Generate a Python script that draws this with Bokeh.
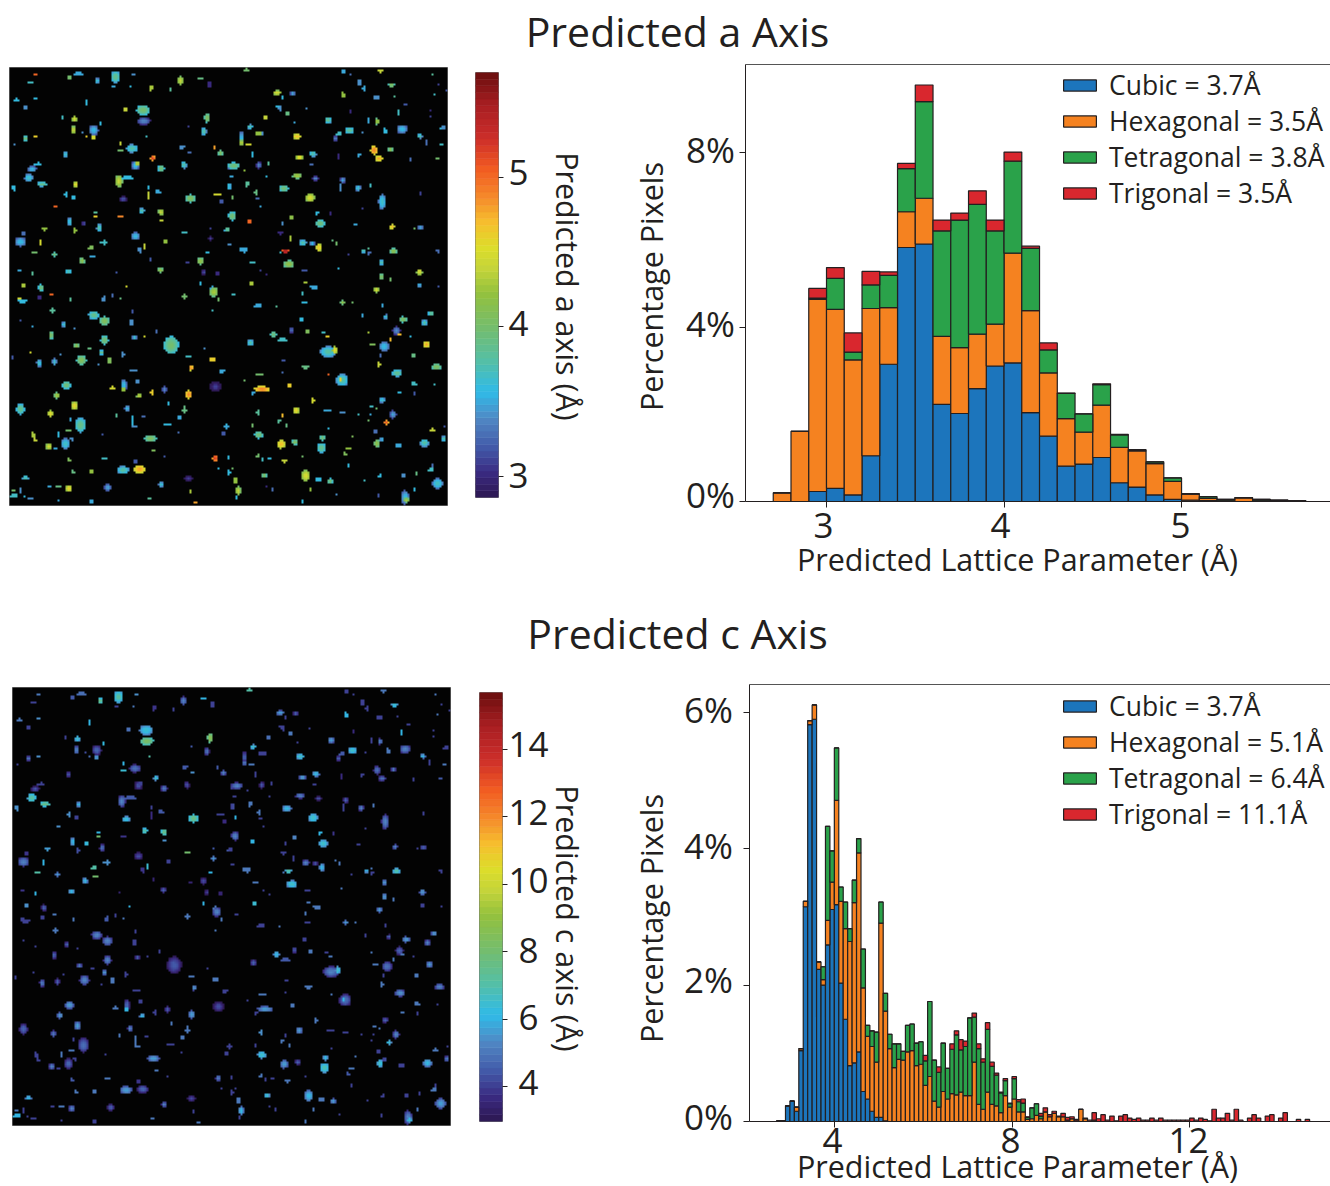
import numpy as np
from bokeh.plotting import figure
from bokeh.layouts import column, row
from bokeh.models import (ColumnDataSource, FixedTicker, Label, Legend, LinearAxis,
                          Range1d, LinearColorMapper, Spacer)
from bokeh.embed import file_html
from bokeh.resources import INLINE

INK = "#231F20"
FONT = "Open Sans"
SERIES_COLORS = ["#1C75BC", "#F58220", "#2AA24A", "#D9272E"]

# ---------- histogram, a axis (percent per 0.1 A bin, left bin edges) ----------
a_bins = [round(2.7 + 0.1 * i, 1) for i in range(30)]
a_cubic = [0, 0, .23, .30, .15, 1.05, 3.15, 5.83, 5.91, 2.23, 2.02, 2.59, 3.11, 3.18, 2.04, 1.50, .81, .86, 1.01, .43, .33, .15, .05, .03, .02, .01, 0, .01, .01, 0]
a_hex = [.20, 1.61, 4.41, 4.11, 3.10, 3.38, 1.30, .82, 1.05, 1.56, 1.51, 1.25, .96, 2.52, 2.34, 1.45, 1.09, .73, 1.20, .81, .83, .72, .41, .14, .05, .02, .08, .02, .01, .01]
a_tet = [0, 0, .03, .71, .18, .54, .74, .99, 2.22, 2.42, 2.93, 2.98, 2.14, 2.11, 1.43, .53, .58, .42, .47, .29, .03, .04, .08, .01, .04, .02, .01, .02, .01, .01]
a_tri = [0, 0, .22, .25, .44, .31, .08, .12, .38, .25, .16, .31, .25, .21, .05, .16, .01, 0, .02, .01, 0, 0, 0, 0, 0, 0, 0, 0, 0, 0]

# ---------- histogram, c axis ----------
c_bins = [round(2.7 + 0.1 * i, 1) for i in range(120)]
c_cubic = [.01, .01, .23, .30, .15, 1.04, 3.15, 5.82, 5.90, 2.23, 2.00, 2.59, 3.11, 3.18, 2.03, 1.50, .82, .86, 1.02, .44, .33, .15, .06, .06, .01] + [0] * 95
c_hex = [0, 0, 0, 0, .06, .03, .08, .06, .21, .11, .08, .36, .40, 1.53, 1.20, 1.33, 1.82, 2.35, 2.92, 1.52, .92, .95, .81, 2.85, 1.61,
         1.07, .79, .91, .90, 1.02, 1.04, .82, .84, .53, .66, .30, .21, .44, .33, .41, .39, .43, .38, .38, .87, .25, .18, .43, .25, .23, .13, .38, .21, .33,
         .14, .14, .03, .04, .09, .04, .14, .07, .12, .07, .07, .02, .04, .01, .18, .04, 0, .02] + [0] * 48
c_tet = [0, 0, 0, 0, 0, 0, 0, 0, 0, 0, .19, 1.38, .46, .77, .21, .39, .19, .33, .21, .57, .16, .23, .44, .31, .26,
         .21, .35, .23, .13, .39, .39, .33, .33, .36, 1.10, .60, .51, .71, .45, .65, .88, .62, .72, 1.14, .66, .82, .69, .92, .56, .45, .29, .22, .05, .30,
         .15, .13, .03, .16, .17, .04] + [0] * 60
c_tri = [0] * 33 + [.08, 0, 0, .08, 0, 0, .08, .06, .15, .08, 0, .06, .07, .05, .10, .06, .03, .01, .03, .01, .03,
         .03, .06, .01, 0, 0, .04, .06, .03, .03, .01, .05, .04, .03, .02, 0, .01, .02, .11, .04, .10, .02, .08, .01, .08, .10, .05, .03, .05, .02, .02, .05, .02, .05,
         .02, .02, .02, .02, .02, .02, .05, .02, .05, .03, .01, .18, .05, .05, .12, .02, .18, .02, 0, .05, .10, .05, 0, .08, .10, 0, .05, .13, 0, 0, .03, 0, .03]
c_tri = (c_tri + [0] * 120)[:120]

SERIES = ["Cubic", "Hexagonal", "Tetragonal", "Trigonal"]
a_legend = ["Cubic = 3.7Å", "Hexagonal = 3.5Å", "Tetragonal = 3.8Å", "Trigonal = 3.5Å"]
c_legend = ["Cubic = 3.7Å", "Hexagonal = 5.1Å", "Tetragonal = 6.4Å", "Trigonal = 11.1Å"]

# ---------- colour scale ----------
cmap_stops = [0, .05, .11, .18, .245, .32, .40, .48, .54, .59, .65, .71, .78, .85, .93, 1]
cmap_hex = ["#2E1A57", "#3A2A80", "#4258A8", "#5088C4", "#2FBBE8", "#55BFA5", "#75BD6C", "#93C13E",
            "#C5D43A", "#DDDD2A", "#F6BE2E", "#F58A2B", "#F15A22", "#CC2E2A", "#A81E22", "#701010"]

def make_palette(n=64):
    rgb = np.array([[int(h[i:i + 2], 16) for i in (1, 3, 5)] for h in cmap_hex], float)
    t = np.linspace(0, 1, n)
    return ["#%02x%02x%02x" % tuple(int(round(np.interp(v, cmap_stops, rgb[:, k]))) for k in range(3)) for v in t]

PALETTE = make_palette()
A_LOW, A_HIGH = 2.86, 5.70
C_LOW, C_HIGH = 2.97, 15.68

# ---------- detected grains: x, y, w, h, a value, c value (thirds of a picture pixel) ----------
spots_q1 = [
 (345,50,24,32,3.7,6.5),(232,42,26,10,3.5,4.8),(205,52,16,6,4.0,4.5),(290,62,12,14,3.5,7),(105,45,6,8,5.0,5),(90,65,14,4,3.7,4),
 (398,43,6,6,3.4,5.5),(540,62,16,24,4.2,4.5),(600,56,18,6,3.9,6),(627,75,10,18,3.0,4),(452,84,10,14,4.3,3.8),(510,90,8,8,3.8,4),
 (338,80,8,8,3.5,4),(388,80,4,4,3.6,5),(50,120,14,8,3.6,5),(104,114,6,5,3.6,5.5),(258,126,8,12,3.6,6),(75,143,6,18,3.4,4),
 (376,147,14,10,4.4,4.8),(428,150,38,28,3.8,5.8),(430,183,38,20,3.2,7.5),(187,173,6,6,3.7,4),(222,176,14,16,4.3,6),(620,173,16,26,3.9,8),
 (565,200,6,6,3.1,4.4),(219,210,14,24,4.2,4.5),(280,210,26,28,3.4,4),(300,190,8,6,3.6,6.2),(75,235,12,14,3.8,4.3),(104,228,10,8,4.6,5.5),
 (260,230,4,8,4.6,4.8),(280,232,10,8,4.5,5.5),(245,218,6,6,3.4,4.2),(438,228,6,4,3.7,7),(610,214,14,22,3.6,4.2),(40,254,6,4,3.4,4),
 (360,250,14,4,4.4,6),(360,272,12,6,4.0,6.5),(395,265,34,22,3.6,4.2),(195,283,14,16,3.5,3.7),(457,294,12,12,5.0,6),(545,260,14,10,3.4,4.5),
 (566,277,8,6,3.3,5.5),(640,262,4,18,4.8,4.5),(660,278,14,16,3.9,4.5),(95,327,24,16,3.4,3.7),(112,312,20,8,3.6,4),(405,316,20,26,3.4,3.6),
 (410,310,16,6,4.3,4),(482,325,18,18,3.8,4.3),(550,314,16,20,3.6,3.6),(85,353,24,22,3.5,6.5),(125,372,30,12,3.7,7),(355,363,20,34,4.2,4.5),
 (380,354,30,10,3.6,4.5),(226,373,12,14,4.4,5.5),(40,384,8,14,3.6,5.5),(197,404,8,14,3.6,5.5),(220,412,14,8,3.6,4),(443,405,6,20,4.4,3.7),
 (445,382,3,8,3.6,4),(472,396,16,10,3.5,4.5),(368,417,22,16,3.0,5.8),(570,415,26,22,3.9,7),(652,403,20,6,4.5,4),(663,425,10,10,3.2,3.7),
 (165,438,6,4,5.0,5.5),(424,452,16,14,3.6,6.5),(482,456,16,18,4.2,7),(283,458,8,6,3.8,6),(285,470,10,5,4.6,8),(360,470,20,5,4.9,3.8),
 (483,482,10,4,4.4,5.5),(208,485,12,24,3.5,5.5),(250,490,12,14,3.0,6),(296,503,14,20,3.6,4.2),(132,506,12,10,4.2,5.6),(224,510,6,16,4.2,4.2),
 (70,520,8,16,3.3,3.8),(552,517,10,4,3.7,8),(630,505,6,4,3.1,4.5),(630,535,14,14,2.9,5),(680,510,16,8,3.5,4.5),(60,545,32,26,3.4,4.5),
 (120,548,8,14,4.5,6),(405,528,26,22,3.4,3.5),(432,558,8,14,4.4,6.5),(495,543,14,10,4.2,4),(310,547,18,10,3.7,5.5),(272,564,14,10,4.1,7),
 (102,577,14,4,4.0,7),(275,587,18,4,3.5,8),(162,583,14,12,3.8,5),(245,602,14,18,4.0,5.5),(418,570,8,18,3.4,3.8),(600,603,20,20,4.0,3.6),
 (622,577,10,4,3.6,6),(450,598,10,6,3.2,3.5),(560,607,8,8,3.1,3.5),(204,634,20,12,3.6,5.5),(480,630,16,14,4.0,4),(610,636,12,14,3.0,3.4),
 (652,640,8,8,3.0,3.4),(95,640,8,14,3.8,6),(58,630,8,4,3.5,3.8),(350,635,4,4,3.2,3.4),(67,675,12,10,4.3,5.5),(122,682,16,14,3.8,4),
 (375,680,4,4,4.5,6),(600,670,10,4,3.6,6),(638,685,20,10,3.5,5),(685,320,10,10,3.3,4),(688,378,6,14,3.5,4.2),(688,468,8,16,3.8,5),
]
spots_q2 = [
 (64,30,16,8,4.0,7),(155,98,24,12,4.3,5),(172,110,4,12,3.6,4),(202,100,14,14,3.3,4),(158,138,18,6,3.6,4),(163,145,6,14,3.4,4),
 (185,160,8,14,3.9,5),(120,172,16,14,4.3,4.5),(240,142,4,6,3.4,4),(207,187,4,6,3.5,4),(308,180,18,16,3.7,5),(375,155,10,8,3.0,3.6),
 (353,105,10,16,4.2,6),(355,33,14,10,3.5,4),(377,40,6,4,3.3,4),(465,33,12,6,4.4,5),(402,67,8,14,3.4,4),(415,87,6,18,3.5,4),
 (498,75,18,12,3.9,6),(452,113,18,10,3.4,4),(506,110,4,4,3.8,4),(540,132,8,4,3.2,4),(519,157,8,12,3.7,6),(612,152,4,4,3.0,4),
 (612,168,4,4,3.1,4),(620,42,6,6,3.8,5),(625,100,8,4,3.7,5),(660,92,4,4,3.2,4),(640,72,4,4,3.1,4),(74,200,16,12,3.6,6),
 (48,235,14,44,3.4,4),(48,248,12,14,4.2,4.5),(70,252,12,6,4.5,5),(97,220,18,8,4.2,4),(110,221,4,10,3.4,4),(215,229,24,14,4.5,6),
 (222,292,18,14,4.4,5),(262,281,20,16,3.6,5.5),(258,312,14,6,3.3,4),(340,222,18,10,3.7,4.5),(330,235,12,14,3.2,4),(372,211,24,16,3.7,6),
 (412,218,4,4,3.4,4),(430,180,6,14,3.5,4),(455,184,14,16,4.1,4.5),(478,212,10,16,3.6,5),(530,207,30,24,3.4,4.5),(583,228,14,12,3.6,5.5),
 (602,245,6,16,3.3,4),(655,202,8,14,3.4,4),(645,204,6,4,3.6,4),(648,254,8,4,3.7,5),(446,270,20,24,4.7,4.2),(461,295,22,14,4.6,4.2),
 (495,268,12,14,4.0,4.5),(400,285,10,6,3.5,4),(339,291,8,16,3.0,3.6),(557,297,4,8,3.3,4),(636,295,6,8,4.0,4.5),(80,282,6,16,3.6,4),
 (25,317,34,18,3.8,4.5),(100,315,14,18,3.2,3.8),(128,310,6,6,3.8,4),(18,350,4,10,3.5,4),(54,332,4,4,4.2,4),(65,372,10,14,3.8,5),
 (8,378,6,14,3.6,4),(92,397,8,16,3.9,5),(95,413,14,4,3.3,4),(125,347,6,4,3.6,4),(104,438,4,4,3.5,4),(20,411,8,8,4.0,6),
 (215,347,26,14,4.1,4.5),(270,355,16,12,3.2,3.6),(175,385,26,18,3.8,5.5),(352,360,14,16,3.3,4),(346,382,4,24,3.4,4),(398,384,14,16,3.5,4.5),
 (435,378,4,10,3.7,5),(254,413,26,24,4.3,6),(470,425,20,42,3.5,4.5),(585,400,4,4,3.1,4),(410,442,4,4,3.1,4),(20,468,22,24,3.8,4.5),
 (72,484,10,8,5.0,6),(198,472,12,14,4.1,5),(172,490,4,14,3.4,4),(274,458,8,8,3.6,6),(316,461,8,10,3.0,3.8),(284,490,26,20,3.8,6),
 (390,494,4,8,3.5,4),(500,500,14,14,4.5,4.5),(564,506,4,4,4.0,4),(585,502,18,14,3.3,4),(6,510,8,10,3.8,4),(166,519,16,6,3.0,4),
 (195,535,6,16,4.3,4),(232,548,20,16,3.6,4.5),(260,550,14,14,3.4,3.8),(280,562,14,22,4.5,5.5),(180,573,16,14,5.3,6.5),(162,574,4,4,3.7,5),
 (320,542,4,4,3.9,5),(335,550,4,6,4.0,5),(12,552,12,6,3.4,4),(55,568,20,10,3.5,5),(55,578,4,10,3.5,5),(414,572,12,12,3.6,5.5),
 (430,578,8,10,3.3,4),(426,562,6,4,3.8,5),(504,573,18,14,4.0,6.5),(370,585,6,4,3.1,4),(637,572,8,12,3.3,4),(468,607,12,14,3.6,5),
 (80,607,14,6,3.7,5),(190,612,30,20,4.0,6),(236,631,18,8,3.2,4),(340,623,10,4,3.6,5),(105,631,4,4,3.1,4),(582,635,16,18,4.3,5),
 (468,650,14,18,3.9,5),(495,657,6,10,4.0,5),(78,670,6,16,4.3,6.5),(240,667,4,4,4.3,5),(265,680,24,6,3.5,5),(453,686,16,10,4.0,5.5),
 (582,675,6,16,3.5,4),(640,680,6,6,3.2,4),(122,645,4,4,3.0,4),
]
spots_q3 = [
 (122,8,14,18,3.8,4),(65,47,24,10,3.6,4),(57,40,4,4,4.5,4),(115,37,14,6,3.0,4),(155,27,10,4,5.0,5),(310,42,10,16,3.4,4.4),
 (335,30,8,6,3.3,4),(360,38,6,4,3.9,5),(209,45,4,10,3.8,5),(552,32,10,14,4.0,5),(640,20,24,26,4.1,4.5),(652,42,4,8,4.0,5),
 (156,78,10,14,3.8,5),(637,73,4,4,3.7,5),(395,80,4,10,3.2,4),(280,90,30,22,3.7,4.5),(312,108,28,26,3.9,4.5),(393,113,10,14,3.4,4),
 (190,118,12,14,3.5,4),(222,130,6,4,3.4,4),(93,123,4,4,3.5,4),(60,105,4,4,3.2,4),(152,150,12,22,3.9,4),(312,165,22,26,3.8,4.5),
 (402,157,12,12,3.5,4),(432,152,6,4,4.5,4),(468,137,8,10,3.3,4),(512,180,42,50,3.8,3.8),(228,182,14,12,4.0,4.5),(268,190,6,8,3.9,4),
 (612,190,8,8,3.4,4),(303,202,14,12,3.7,5),(367,207,8,14,3.4,4),(38,217,4,14,3.2,4),(90,200,12,4,4.5,4),(116,234,14,20,3.5,4.4),
 (162,230,12,18,3.5,4),(243,225,28,28,3.9,4.5),(328,225,10,18,4.1,5),(178,210,4,4,3.4,4),(564,213,10,6,3.7,5),(634,223,16,10,4.6,5),
 (572,248,12,14,4.7,5),(665,258,14,10,3.5,4),(296,236,4,4,3.4,4),(397,256,20,6,3.4,4),(370,300,16,34,3.4,4),(370,312,10,10,4.2,6),
 (412,290,8,14,3.4,4),(198,300,24,20,3.8,5),(336,309,10,10,4.5,5),(170,331,16,16,4.1,5),(416,332,16,12,4.2,5.5),(455,322,10,14,4.6,4),
 (492,313,14,20,3.2,3.8),(565,328,18,22,4.7,5),(645,305,30,28,2.9,3.6),(502,356,4,14,3.6,5),(222,362,16,24,4.4,5),(380,370,14,18,3.4,4.5),
 (60,372,24,30,3.7,4),(150,386,14,18,4.4,4.4),(552,375,10,20,3.9,5),(348,390,4,10,3.8,5),(395,408,6,36,3.6,5),(400,425,14,6,3.4,5),
 (430,395,6,6,3.3,4),(538,397,16,6,3.5,5),(240,420,30,40,3.7,4.2),(210,403,4,14,3.5,4),(205,436,12,8,4.0,5),(500,420,24,4,3.6,4),
 (680,424,12,10,3.6,4),(668,444,12,10,3.2,4),(98,450,8,16,4.3,4),(103,464,12,6,4.4,4),(174,449,4,14,3.6,5),(533,443,4,4,3.3,4),
 (305,446,4,6,3.2,4),(450,460,34,18,3.9,5),(195,476,24,30,3.5,4),(145,484,16,16,4.3,4.5),(215,462,10,10,3.4,4),(167,490,8,8,3.5,4),
 (458,497,10,8,4.1,5),(490,511,6,4,3.2,4),(206,525,10,10,4.1,4.5),(310,521,16,4,3.7,5),(644,519,14,16,5.0,4.5),(684,517,4,14,3.5,4),
 (405,527,14,10,3.2,3.8),(418,552,32,22,4.6,4),(368,555,34,22,3.6,5),(652,551,4,4,3.6,4),(685,560,8,16,3.5,4),(218,560,14,6,3.9,5),
 (272,559,14,6,4.2,5),(564,580,24,16,2.9,3.5),(75,578,18,12,3.6,5.5),(482,598,14,14,3.5,4.5),(205,610,16,18,4.4,4.5),(175,604,12,6,3.9,5),
 (147,604,10,4,3.5,4),(322,607,20,20,3.3,3.8),(40,632,22,10,3.7,6),(90,640,12,4,3.4,4),(60,615,4,12,3.4,4),(38,616,6,8,4.0,5),
 (72,635,4,4,3.6,4),(570,620,6,12,4.3,4),(448,641,10,8,3.8,5),(274,649,10,8,3.5,4),(585,652,4,8,4.8,5),(173,643,4,4,3.5,4),
]
spots_q4 = [
 (265,6,24,8,3.5,5),(453,14,14,14,4.3,5),(582,5,8,8,3.4,4),(26,27,8,6,3.7,4),(230,26,8,6,3.7,5),(97,62,22,8,3.5,4),
 (150,62,4,4,3.8,5),(237,52,10,6,3.6,4),(352,52,14,12,4.0,5),(378,50,4,6,4.0,5),(472,62,6,10,3.5,4),(411,90,8,6,3.5,4),
 (481,95,12,12,3.5,4),(533,103,22,16,3.9,5),(617,85,16,14,3.7,5),(597,113,14,18,3.6,4.5),(228,103,10,12,3.6,4),(144,148,18,18,3.8,5.5),
 (198,135,12,20,3.1,3.8),(246,138,10,10,4.1,5),(172,165,24,10,3.7,4.5),(75,173,16,18,3.6,4),(294,140,8,4,3.7,4),(307,153,10,6,4.6,5),
 (513,137,22,24,3.2,4),(522,147,8,8,4.7,5),(428,143,4,4,4.3,5),(555,152,4,4,3.6,4),(443,178,16,8,4.1,5),(476,184,30,28,3.4,4.2),
 (495,162,4,8,4.7,5),(603,178,16,16,4.6,5),(308,200,44,30,3.6,4.5),(328,195,12,22,4.4,6),(465,212,6,10,3.3,4),(562,211,14,6,3.9,5),
 (175,226,6,8,3.2,4),(240,246,20,6,3.9,5),(168,260,4,6,3.3,4),(460,240,8,14,4.4,5),(633,245,26,18,3.9,4.5),(515,264,28,18,3.7,4.8),
 (103,268,20,8,4.0,5),(310,270,4,4,5,5),(350,285,34,34,3.6,4.2),(345,283,10,8,4.6,6),(55,283,4,4,4.0,4),(193,300,10,12,4.6,5),
 (110,312,44,16,4.7,5),(82,324,12,8,3.5,4),(566,297,18,10,3.7,5),(624,300,4,4,3.7,4),(522,322,12,8,3.6,5),(565,325,4,6,3.2,4),
 (263,346,6,14,4.5,5),(470,345,18,14,3.5,4),(98,382,10,14,3.8,5.5),(212,376,16,20,4.4,5),(306,375,16,6,3.5,4),(351,381,10,6,3.4,4),
 (172,392,4,12,4.7,4),(160,408,12,8,3.8,5),(184,420,6,6,3.9,5),(503,388,18,22,3.3,4.5),(437,364,8,6,3.7,5),(450,367,4,4,4.0,5),
 (400,386,4,4,3.7,4),(435,388,4,6,3.5,4),(482,412,12,12,4.9,6),(430,408,4,4,4.0,4),(4,425,12,10,3.5,4),(80,421,4,6,4.0,4),
 (100,449,24,20,3.8,6),(622,434,18,6,4.4,5),(450,441,6,14,3.3,4),(310,430,4,4,3.6,4),(291,458,16,16,3.8,5.5),(288,488,26,26,3.7,6.2),
 (378,456,4,4,4.1,5),(167,477,22,24,4.5,5),(208,471,16,14,3.9,4),(454,475,16,22,4.0,6),(469,463,12,12,3.4,4),(520,481,20,8,3.5,4),
 (597,473,24,22,3.6,5.5),(655,461,12,14,3.6,4.5),(368,490,16,8,4.2,5),(358,506,10,10,4.1,4.5),(8,517,4,12,3.6,4),(98,512,10,8,4.0,5),
 (112,522,6,8,3.7,4),(132,522,10,4,3.6,4),(178,527,14,8,4.4,5),(228,511,4,4,4.0,4),(368,540,4,10,3.6,4),(620,540,6,8,3.3,4),
 (616,554,16,8,3.7,5),(10,560,8,14,3.6,4),(23,547,4,4,4.0,4),(30,587,10,16,4.2,5),(38,617,14,24,4.2,5.5),(116,571,14,12,3.9,6),
 (241,572,24,30,4.3,5.5),(280,584,18,10,3.6,5),(314,588,16,14,3.8,5),(463,573,6,10,3.6,4),(533,571,10,6,3.4,4),(574,564,4,10,3.9,4),
 (637,595,30,28,3.5,5),(142,612,8,10,3.3,4),(254,612,8,10,4.2,5),(567,612,10,10,3.6,5),(539,637,22,40,3.4,4.5),(543,645,14,12,4.1,6),
 (458,631,6,6,3.2,4),(333,627,4,4,3.4,4),(33,637,4,4,3.6,4),(231,650,6,6,3.6,5),(123,605,4,4,3.0,4),(657,425,4,4,3.2,4),(418,586,4,4,3.7,4),
]

# text placed on the page: text, x, y, size, angle
page_texts = [
    ("Predicted a Axis", 677, 30, 41, 0),
    ("Predicted c Axis", 677, 632, 41, 0),
    ("Predicted a axis (Å)", 567, 286, 30.5, -90),
    ("Predicted c axis (Å)", 567, 918, 30.5, -90),
    ("Percentage Pixels", 650, 286, 30.5, 90),
    ("Percentage Pixels", 650, 918, 30.5, 90),
    ("Predicted Lattice Parameter (Å)", 1017, 558, 30.5, 0),
    ("Predicted Lattice Parameter (Å)", 1017, 1165, 30.5, 0),
    ("3", 823, 525, 35, 0), ("4", 1000, 525, 35, 0), ("5", 1180, 525, 35, 0),
    ("4", 832, 1140, 35, 0), ("8", 1010, 1140, 35, 0), ("12", 1188, 1140, 35, 0),
    ("8%", 710, 149, 35, 0), ("4%", 710, 323, 35, 0), ("0%", 710, 494, 35, 0),
    ("6%", 708, 709, 35, 0), ("4%", 708, 845, 35, 0), ("2%", 708, 979, 35, 0), ("0%", 708, 1116, 35, 0),
    ("5", 518, 172, 35, 0), ("4", 518, 323, 35, 0), ("3", 518, 475, 35, 0),
    ("14", 528, 744, 35, 0), ("12", 528, 812, 35, 0), ("10", 528, 880, 35, 0),
    ("8", 528, 950, 35, 0), ("6", 528, 1017, 35, 0), ("4", 528, 1082, 35, 0),
]

CELLS = 219      # the map's pixels are two screen pixels wide


def spot_raster(col, spread):
    grid = np.full((CELLS, CELLS), np.nan)
    for spots, (ox, oy) in ((spots_q1, (0, 0)), (spots_q2, (675, 0)), (spots_q3, (0, 675)), (spots_q4, (675, 675))):
        for s in spots:
            cx, cy, w, h = s[0] + ox - 27, s[1] + oy - 22, max(s[2], 4), max(s[3], 4)
            i0, i1 = int((cx - w) // 6), int((cx + w) // 6) + 1
            j0, j1 = int((cy - h) // 6), int((cy + h) // 6) + 1
            hit = False
            for j in range(max(j0, 0), min(j1, CELLS - 1) + 1):
                for i in range(max(i0, 0), min(i1, CELLS - 1) + 1):
                    r2 = ((6 * i + 3 - cx) / (w / 2 + 1)) ** 2 + ((6 * j + 3 - cy) / (h / 2 + 1)) ** 2
                    if r2 <= 1.1:
                        big = min(s[2], s[3]) >= 12
                        grid[j, i] = s[col] + (spread * (0.5 - r2) if big else 0)
                        hit = True
            if not hit and 0 <= int(cx // 6) < CELLS and 0 <= int(cy // 6) < CELLS:
                grid[int(cy // 6), int(cx // 6)] = s[col]
    return np.flipud(grid)


def image_panel(width, height, top, left, col, spread, low, high):
    p = figure(width=width, height=height, output_backend="svg", toolbar_location=None,
               x_range=Range1d(0, CELLS), y_range=Range1d(0, CELLS),
               min_border_left=left, min_border_right=width - left - 438,
               min_border_top=top, min_border_bottom=height - top - 438,
               background_fill_color="#030303", border_fill_color=None)
    p.xaxis.visible = False
    p.yaxis.visible = False
    p.grid.visible = False
    p.outline_line_color = "#666666"
    mapper = LinearColorMapper(palette=PALETTE, low=low, high=high, nan_color="#030303")
    p.image(image=[spot_raster(col, spread)], x=0, y=0, dw=CELLS, dh=CELLS, color_mapper=mapper)
    return p


def colorbar_panel(width, height, top, left, frame_h, low, high, ticks):
    p = figure(width=width, height=height, output_backend="svg", toolbar_location=None,
               x_range=Range1d(0, 1), y_range=Range1d(low, high), y_axis_location="right",
               min_border_left=left, min_border_right=width - left - 23,
               min_border_top=top, min_border_bottom=height - top - frame_h,
               border_fill_color=None)
    p.xaxis.visible = False
    p.grid.visible = False
    p.outline_line_color = "#777777"
    edges = np.linspace(low, high, len(PALETTE) + 1)
    p.quad(left=0, right=1, bottom=edges[:-1], top=edges[1:], fill_color=PALETTE, line_color=PALETTE, line_width=0.6)
    ax = p.yaxis[0]
    ax.ticker = FixedTicker(ticks=ticks)
    ax.major_tick_out = 5
    ax.major_tick_in = 0
    ax.minor_tick_out = 0
    ax.minor_tick_in = 0
    ax.axis_line_color = None
    ax.major_tick_line_color = INK
    ax.major_label_overrides = {t: "" for t in ticks}
    return p


def hist_panel(width, height, top, left, frame_h, x_range, y_range, bins, stacks, labels, yticks, legend_xy, xticks):
    p = figure(width=width, height=height, output_backend="svg", toolbar_location=None,
               x_range=Range1d(*x_range), y_range=Range1d(*y_range),
               min_border_left=left, min_border_right=0,
               min_border_top=top, min_border_bottom=height - top - frame_h,
               border_fill_color=None)
    p.grid.visible = False
    p.outline_line_color = None
    data = dict(x=[b + 0.05 for b in bins])
    for name, vals in zip(SERIES, stacks):
        data[name] = vals
    rs = p.vbar_stack(SERIES, x="x", width=0.1, source=ColumnDataSource(data), fill_color=SERIES_COLORS,
                      line_color=INK, line_width=1.2)
    ya = p.yaxis[0]
    ya.ticker = FixedTicker(ticks=yticks)
    ya.major_label_overrides = {t: "" for t in yticks}
    xa = p.xaxis[0]
    xa.ticker = FixedTicker(ticks=xticks)
    xa.major_label_overrides = {t: "" for t in xticks}
    for ax in (xa, ya):
        ax.major_tick_out = 6
        ax.major_tick_in = 0
        ax.minor_tick_out = 0
        ax.minor_tick_in = 0
        ax.axis_line_color = INK
        ax.major_tick_line_color = INK
    top_ax = LinearAxis(ticker=FixedTicker(ticks=[]), axis_line_color="#555555",
                        major_tick_line_color=None, minor_tick_line_color=None)
    p.add_layout(top_ax, "above")
    legend = Legend(items=[(lab, [r]) for lab, r in zip(labels, rs)], location=legend_xy,
                    background_fill_alpha=0, border_line_alpha=0, margin=0, padding=0, spacing=-2,
                    glyph_width=41, glyph_height=14, label_standoff=9, label_text_font=FONT,
                    label_text_font_size="26.5px", label_text_color=INK)
    p.add_layout(legend)
    return p


def text_overlay():
    p = figure(width=1330, height=1186, output_backend="svg", toolbar_location=None,
               x_range=Range1d(0, 1330), y_range=Range1d(1186, 0), min_border=0,
               background_fill_alpha=0, border_fill_alpha=0, margin=(-1186, 0, 0, 0))
    p.xaxis.visible = False
    p.yaxis.visible = False
    p.grid.visible = False
    p.outline_line_color = None
    for text, x, y, size, angle in page_texts:
        p.add_layout(Label(x=x, y=y, text=text, angle=angle, angle_units="deg", text_align="center",
                           text_baseline="middle", text_font=FONT, text_font_size=f"{size}px", text_color=INK))
    return p


ROW1 = 527
ROW2 = 504
a_row = row(
    column(image_panel(462, ROW1, 4, 9, 4, 0.4, A_LOW, A_HIGH)),
    column(colorbar_panel(163, ROW1, 9, 13, 425, A_LOW, A_HIGH, [3, 4, 5])),
    column(hist_panel(705, ROW1, 1, 120, 437, (2.5437, 5.839), (0, 10.03), a_bins, [a_cubic, a_hex, a_tet, a_tri], a_legend,
               [0, 4, 8], (314, 290), [3, 4, 5])),
)
c_row = row(
    column(image_panel(462, ROW2, 5, 12, 5, 1.5, C_LOW, C_HIGH)),
    column(colorbar_panel(163, ROW2, 10, 17, 429, C_LOW, C_HIGH, [4, 6, 8, 10, 12, 14])),
    column(hist_panel(705, ROW2, 2, 124, 437, (2.09, 15.17), (0, 6.41), c_bins, [c_cubic, c_hex, c_tet, c_tri], c_legend,
               [0, 2, 4, 6], (310, 289), [4, 8, 12])),
)
page = column(Spacer(width=1330, height=63), a_row, Spacer(width=1330, height=92), c_row, text_overlay())

with open("out.html", "w") as f:
    f.write(file_html(page, INLINE))
